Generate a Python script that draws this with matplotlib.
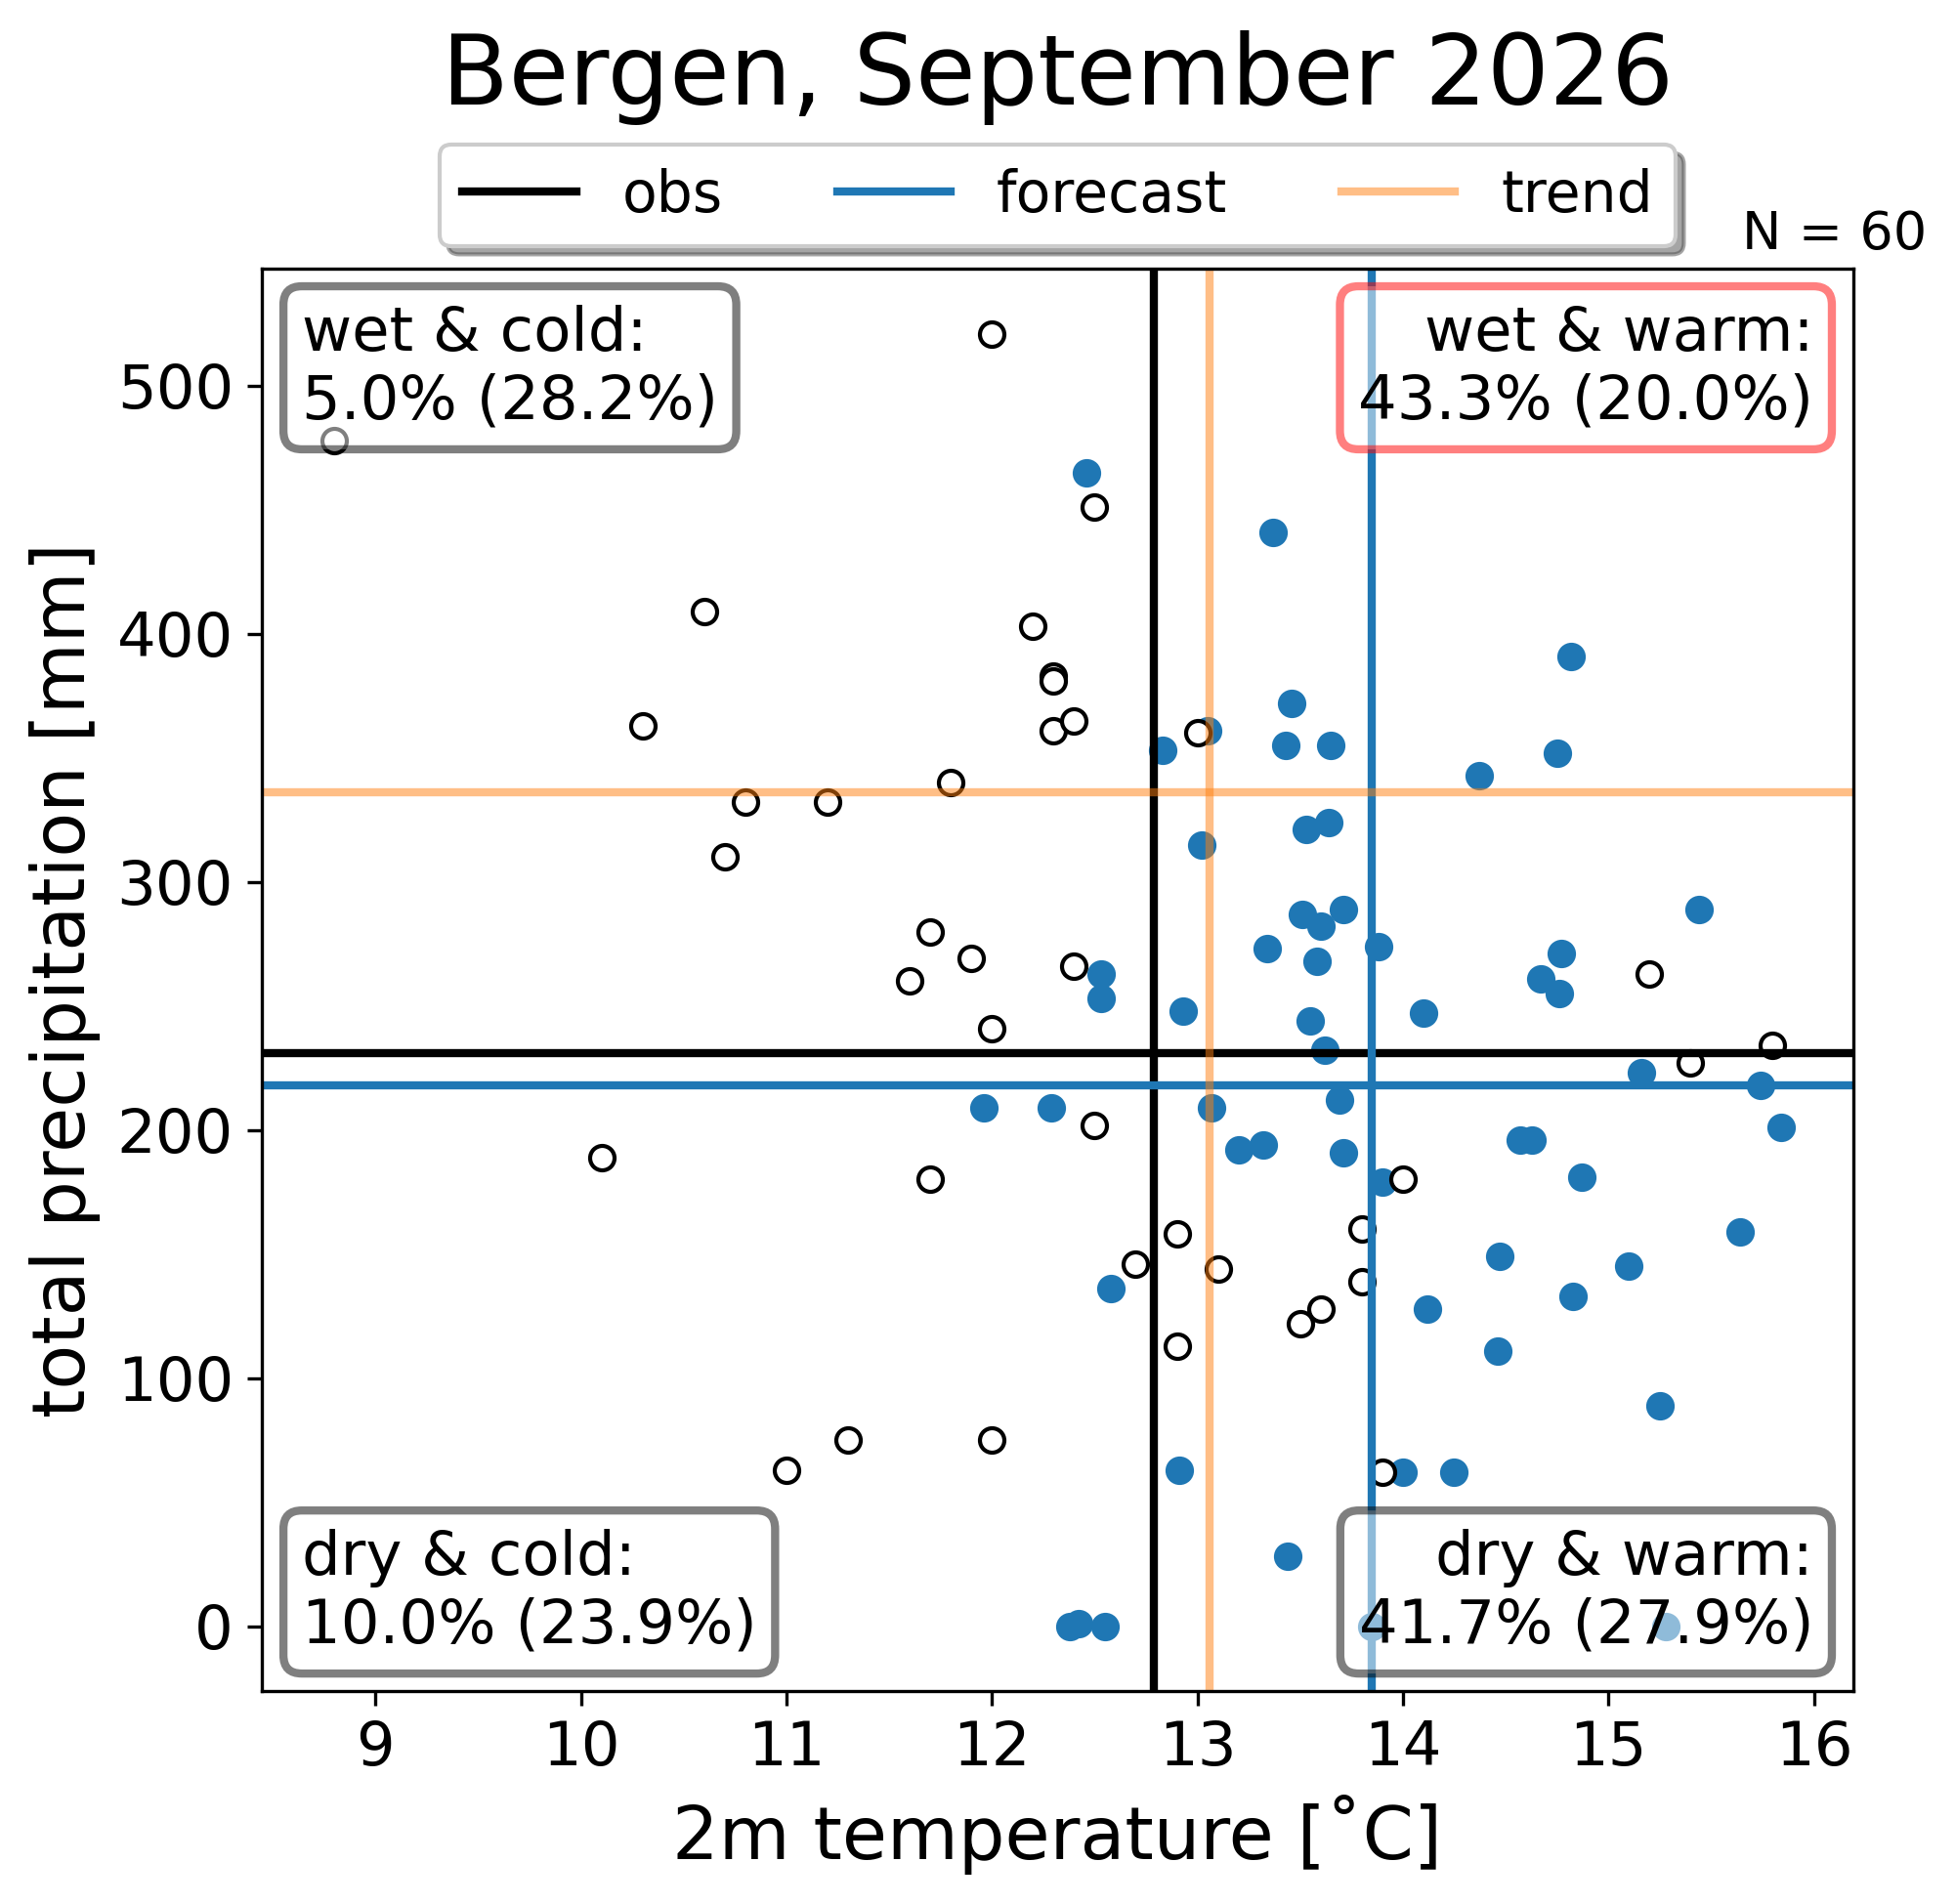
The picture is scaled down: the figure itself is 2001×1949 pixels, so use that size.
import matplotlib
matplotlib.use('Agg')
import matplotlib.pyplot as plt

# observed seasons (temperature, precipitation)
obs_t = [8.8, 12.0, 12.5, 10.6, 12.2, 12.3, 12.3, 10.3, 12.3, 12.4,
         13.0, 11.8, 10.8, 11.2, 10.7, 11.7, 11.9, 12.4, 11.6, 15.2,
         12.0, 15.8, 15.4, 12.5, 10.1, 11.7, 14.0, 13.8, 12.9, 12.7,
         13.1, 13.8, 13.6, 13.5, 12.9, 11.3, 12.0, 11.0, 13.9]
obs_p = [478, 521, 451, 409, 403, 383, 381, 363, 361, 365,
         360, 340, 332, 332, 310, 280, 269, 266, 260, 263,
         241, 234, 227, 202, 189, 180, 180, 160, 158, 146,
         144, 139, 128, 122, 113, 75, 75, 63, 62]

# forecast ensemble members
fc_t = [12.46, 13.37, 14.82, 13.46, 13.05, 12.83, 13.43, 13.65, 14.75, 14.37,
        13.64, 13.53, 13.02, 13.71, 15.44, 13.51, 13.60, 13.34, 13.88, 13.58,
        14.77, 12.53, 14.67, 14.76, 12.53, 12.93, 13.55, 14.10, 13.62, 15.16,
        15.74, 11.96, 12.29, 13.07, 13.69, 15.84, 13.20, 13.32, 13.71, 14.57,
        14.63, 13.90, 14.87, 15.64, 14.47, 15.10, 12.58, 14.83, 14.12, 14.46,
        15.25, 12.91, 14.00, 14.25, 13.44, 12.38, 12.42, 12.55, 15.28, 13.85]
fc_p = [465, 441, 391, 372, 361, 353, 355, 355, 352, 343,
        324, 321, 315, 289, 289, 287, 282, 273, 274, 268,
        271, 263, 261, 255, 253, 248, 244, 247, 232, 223,
        218, 209, 209, 209, 212, 201, 192, 194, 191, 196,
        196, 179, 181, 159, 149, 145, 136, 133, 128, 111,
        89, 63, 62, 62, 28, 0, 1, 0, 0, 0]

# reference values
obs_mean = (12.79, 231)
fc_mean = (13.85, 218)
trend_mean = (13.06, 336)

quadrants = {
    'wet & cold': '5.0% (28.2%)',
    'wet & warm': '43.3% (20.0%)',
    'dry & cold': '10.0% (23.9%)',
    'dry & warm': '41.7% (27.9%)',
}
n_members = 60

fig = plt.figure(figsize=(2001 / 300, 1949 / 300), dpi=300)
ax = fig.add_axes([0.134, 0.112, 0.814, 0.7467])

ax.scatter(fc_t, fc_p, s=36, color='tab:blue')
ax.scatter(obs_t, obs_p, s=36, facecolor='white', edgecolor='black', linewidth=1)

ax.axvline(obs_mean[0], color='black', lw=2, label='obs')
ax.axhline(obs_mean[1], color='black', lw=2)
ax.axvline(fc_mean[0], color='tab:blue', lw=2, label='forecast')
ax.axhline(fc_mean[1], color='tab:blue', lw=2)
ax.axvline(trend_mean[0], color='tab:orange', alpha=0.5, lw=2, label='trend')
ax.axhline(trend_mean[1], color='tab:orange', alpha=0.5, lw=2)

box = dict(boxstyle='round', facecolor='white', edgecolor='black', alpha=0.5, lw=2)
box_red = dict(boxstyle='round', facecolor='white', edgecolor='red', alpha=0.5, lw=2)

ax.text(0.025, 0.975, 'wet & cold:\n' + quadrants['wet & cold'], transform=ax.transAxes,
        ha='left', va='top', fontsize=15, bbox=box)
ax.text(0.975, 0.975, 'wet & warm:\n' + quadrants['wet & warm'], transform=ax.transAxes,
        ha='right', va='top', fontsize=15, bbox=box_red)
ax.text(0.025, 0.025, 'dry & cold:\n' + quadrants['dry & cold'], transform=ax.transAxes,
        ha='left', va='bottom', fontsize=15, bbox=box)
ax.text(0.975, 0.025, 'dry & warm:\n' + quadrants['dry & warm'], transform=ax.transAxes,
        ha='right', va='bottom', fontsize=15, bbox=box)

ax.text(1.046, 1.014, f'N = {n_members}', transform=ax.transAxes,
        ha='right', va='baseline', fontsize=13)

ax.legend(loc='lower center', bbox_to_anchor=(0.5, 0.996), ncol=3,
          fancybox=True, shadow=True, fontsize=14)

ax.set_title('Bergen, September 2026', fontsize=24, pad=40.5)
ax.set_xlabel('2m temperature [˚C]', fontsize=18)
ax.set_ylabel('total precipitation [mm]', fontsize=18)
ax.tick_params(labelsize=15)

fig.savefig('out.png', dpi=300)
